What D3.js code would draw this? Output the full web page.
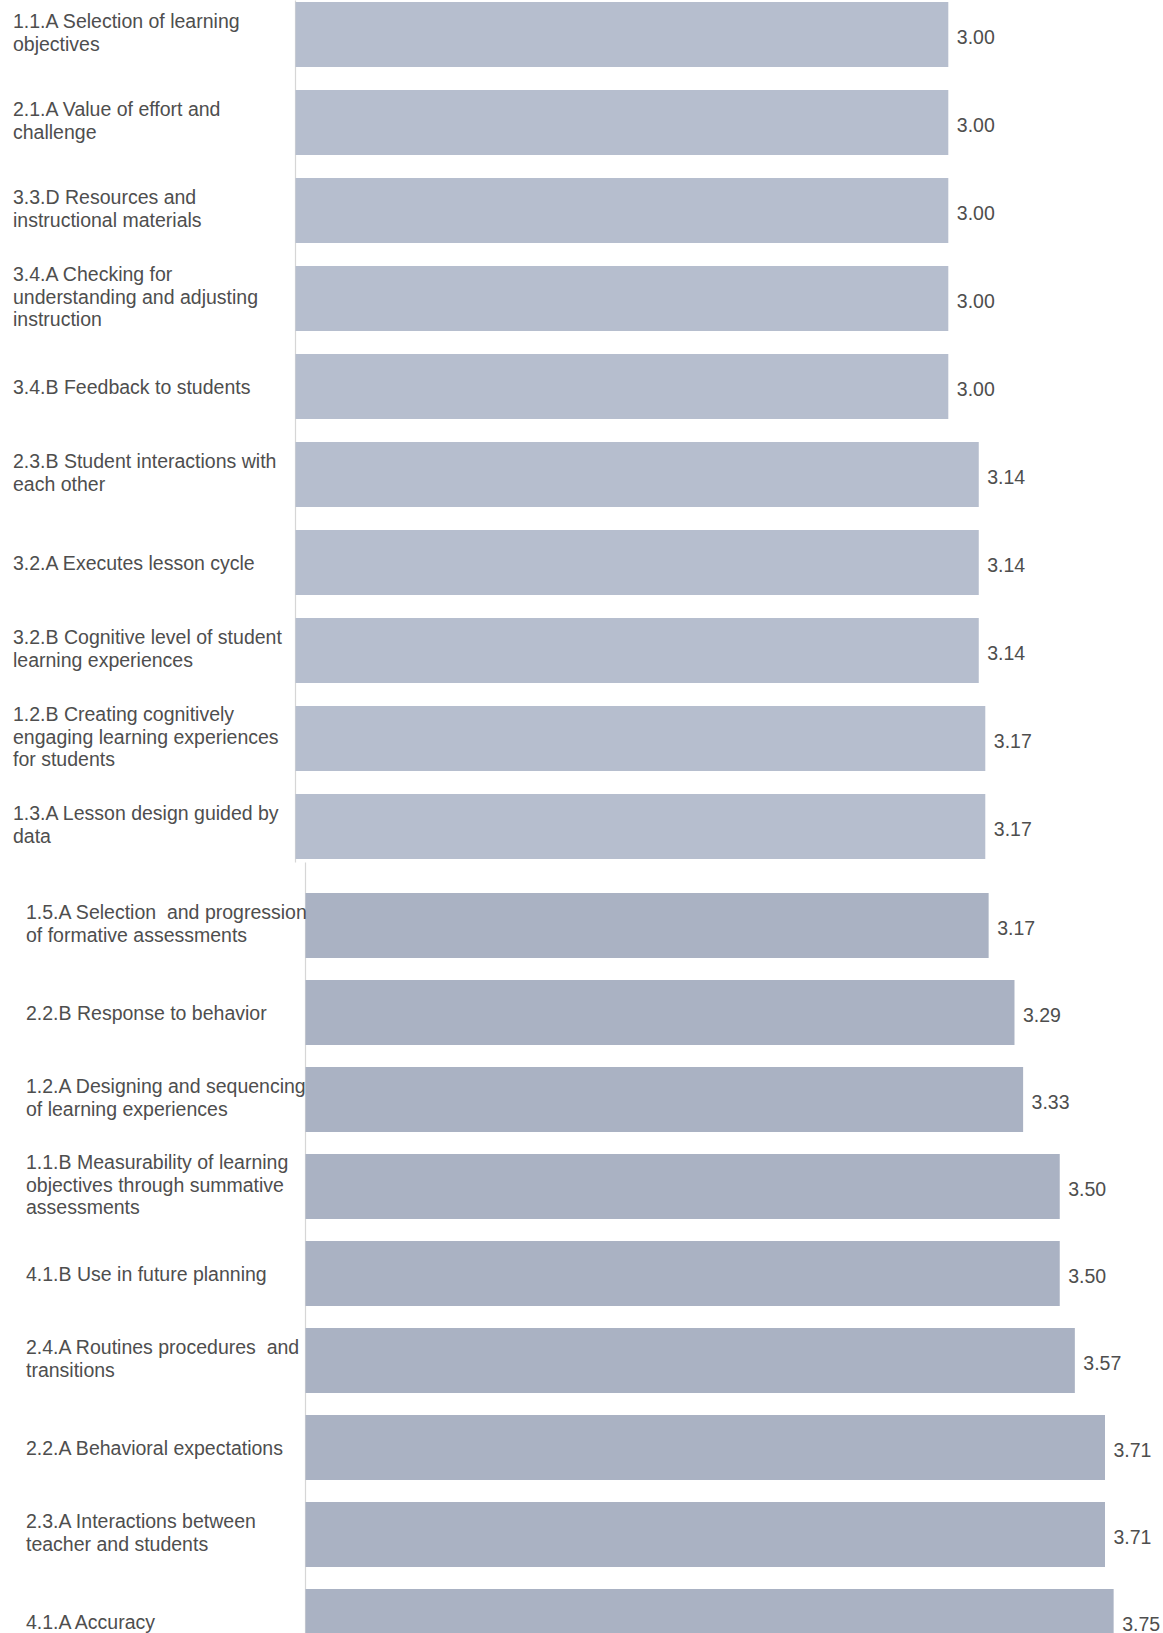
<!DOCTYPE html>
<html>
<head>
<meta charset="utf-8">
<script src="https://cdn.jsdelivr.net/npm/d3@7"></script>
<style>
  html, body { margin: 0; padding: 0; background: #ffffff; }
  svg { display: block; }
  text { font-family: "Liberation Sans", Arial, sans-serif; fill: #4e4e4e; }
</style>
</head>
<body>
<svg id="chart" width="1163" height="1633"></svg>
<script>
// ---- data ----
const topCategories = [
  "1.1.A Selection of learning\nobjectives",
  "2.1.A Value of effort and\nchallenge",
  "3.3.D Resources and\ninstructional materials",
  "3.4.A Checking for\nunderstanding and adjusting\ninstruction",
  "3.4.B Feedback to students",
  "2.3.B Student interactions with\neach other",
  "3.2.A Executes lesson cycle",
  "3.2.B Cognitive level of student\nlearning experiences",
  "1.2.B Creating cognitively\nengaging learning experiences\nfor students",
  "1.3.A Lesson design guided by\ndata"
];
const topValues = [3.00, 3.00, 3.00, 3.00, 3.00, 3.14, 3.14, 3.14, 3.17, 3.17];

const bottomCategories = [
  "1.5.A Selection  and progression\nof formative assessments",
  "2.2.B Response to behavior",
  "1.2.A Designing and sequencing\nof learning experiences",
  "1.1.B Measurability of learning\nobjectives through summative\nassessments",
  "4.1.B Use in future planning",
  "2.4.A Routines procedures  and\ntransitions",
  "2.2.A Behavioral expectations",
  "2.3.A Interactions between\nteacher and students",
  "4.1.A Accuracy"
];
const bottomValues = [3.17, 3.29, 3.33, 3.50, 3.50, 3.57, 3.71, 3.71, 3.75];

// ---- drawing ----
const svg = d3.select("#chart");

function drawSection(cfg) {
  const { categories, values, x0, unit, y0, step, barH, labelX, fill, axisTop, axisBottom } = cfg;
  const n = categories.length;
  const pad = (step - barH) / step;
  const x = d3.scaleLinear().domain([0, 4]).range([x0, x0 + 4 * unit]);
  const y = d3.scaleBand()
    .domain(d3.range(n))
    .range([y0, y0 + step * n - (step - barH)])
    .paddingInner(pad)
    .paddingOuter(0);

  const g = svg.append("g");

  // category axis line
  const yAxisScale = d3.scaleLinear().domain([0, 1]).range([axisTop, axisBottom]);
  const ax = g.append("g")
    .attr("transform", `translate(${x0},0)`)
    .call(d3.axisLeft(yAxisScale).ticks(0).tickSize(0).tickFormat(""));
  ax.select(".domain").attr("stroke", "#d6d6d6").attr("stroke-width", 1.2);

  // bars
  g.selectAll("rect.bar")
    .data(values)
    .join("rect")
    .attr("class", "bar")
    .attr("x", x(0) + 0.5)
    .attr("y", (d, i) => y(i))
    .attr("width", d => x(d) - x(0))
    .attr("height", y.bandwidth())
    .attr("fill", fill);

  // value labels
  g.selectAll("text.val")
    .data(values)
    .join("text")
    .attr("class", "val")
    .attr("x", d => x(d) + 9)
    .attr("y", (d, i) => y(i) + y.bandwidth() / 2 + 9)
    .attr("font-size", 19.5)
    .text(d => d.toFixed(2));

  // category labels (wrapped)
  const lh = 22.7;
  categories.forEach((c, i) => {
    const lines = c.split("\n");
    const cy = y(i) + y.bandwidth() / 2;
    const t = g.append("text")
      .attr("font-size", 19.5)
      .attr("xml:space", "preserve");
    lines.forEach((ln, k) => {
      t.append("tspan")
        .attr("x", labelX)
        .attr("y", cy + (k - (lines.length - 1) / 2) * lh + (lines.length > 1 ? 5 : 7))
        .text(ln);
    });
  });
}

drawSection({
  categories: topCategories, values: topValues,
  x0: 295, unit: 217.6, y0: 2, step: 88, barH: 65,
  labelX: 13, fill: "#b6bece", axisTop: 0, axisBottom: 862
});

drawSection({
  categories: bottomCategories, values: bottomValues,
  x0: 305, unit: 215.5, y0: 893, step: 87, barH: 65,
  labelX: 26, fill: "#aab2c3", axisTop: 862, axisBottom: 1633
});
</script>
</body>
</html>
